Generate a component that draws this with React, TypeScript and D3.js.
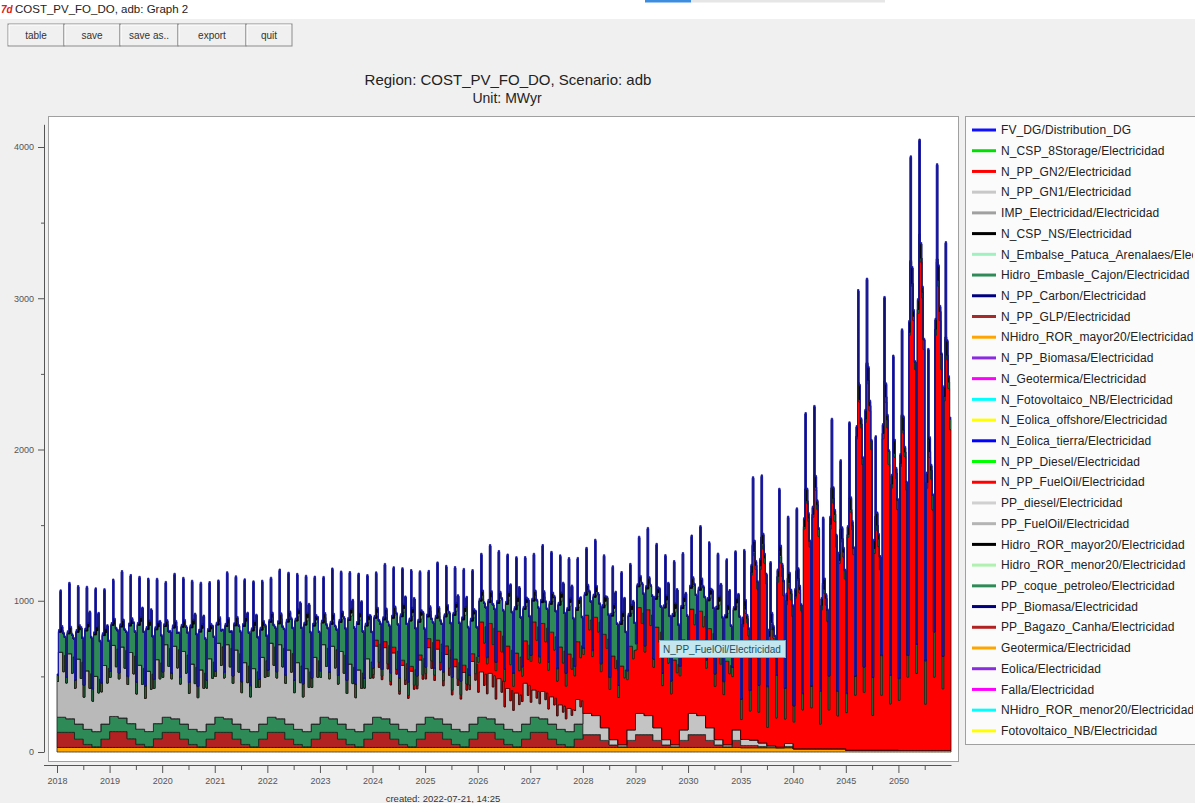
import React, { useEffect, useRef } from "react";
import * as d3 from "d3";

// ---------------- DATA ----------------
const periods = ["2018","2019","2020","2021","2022","2023","2024","2025","2026","2027","2028","2029","2030","2035","2040","2045","2050"];
// dispatch regime per period: "a" = thermal + hydro mix, "b" = fuel-oil dominated with deep valleys
const regimeByPeriod = ["a","a","a","a","a","a","a","a","a","a","a","a","a","b","b","b","b"];
const seasonLabels = ["S1","S2","S3","S4","S5","S6"];
const daypartLabels = ["D1","D2","D3","D4","D5","D6"];

const legendNames = [
  "FV_DG/Distribution_DG","N_CSP_8Storage/Electricidad","N_PP_GN2/Electricidad","N_PP_GN1/Electricidad",
  "IMP_Electricidad/Electricidad","N_CSP_NS/Electricidad","N_Embalse_Patuca_Arenalaes/Electricidad",
  "Hidro_Embasle_Cajon/Electricidad","N_PP_Carbon/Electricidad","N_PP_GLP/Electricidad",
  "NHidro_ROR_mayor20/Electricidad","N_PP_Biomasa/Electricidad","N_Geotermica/Electricidad",
  "N_Fotovoltaico_NB/Electricidad","N_Eolica_offshore/Electricidad","N_Eolica_tierra/Electricidad",
  "N_PP_Diesel/Electricidad","N_PP_FuelOil/Electricidad","PP_diesel/Electricidad","PP_FuelOil/Electricidad",
  "Hidro_ROR_mayor20/Electricidad","Hidro_ROR_menor20/Electricidad","PP_coque_petroleo/Electricidad",
  "PP_Biomasa/Electricidad","PP_Bagazo_Canha/Electricidad","Geotermica/Electricidad","Eolica/Electricidad",
  "Falla/Electricidad","NHidro_ROR_menor20/Electricidad","Fotovoltaico_NB/Electricidad"
];
const legendColors = [
  "#1010ff","#00e000","#ff0000","#c8c8c8","#a0a0a0","#000000","#a0f0c0","#2e8b57","#00007f","#a52a2a",
  "#ffa500","#8a2be2","#ff00ff","#00ffff","#ffff00","#0000ff","#00ff00","#ff0000","#d0d0d0","#b4b4b4",
  "#000000","#b0f0b0","#2e8b57","#00007f","#b22222","#ffa500","#8a2be2","#ff00ff","#00ffff","#ffff00"
];

// levels (MW) per period
const geotermicaLevel = [30,30,30,30,30,30,30,30,30,30,30,30,30,28,22,12,10];
const bagazoLevel     = [100,105,100,100,100,100,100,100,100,100,85,85,85,15,0,0,0];
const coqueLevel      = [100,100,100,100,100,100,100,100,100,100,0,0,0,0,0,0,0];
const ppDieselLevel   = [0,0,0,0,0,0,0,0,0,0,140,140,140,40,0,0,0];
const ppFuelOilLevel  = [430,470,480,490,490,480,470,460,300,180,0,0,0,0,0,0,0];
const nFuelOilLevel   = [0,0,0,0,0,0,40,60,330,450,650,700,690,1350,1800,2550,3400];
const cajonLevel      = [220,220,200,200,230,240,240,240,230,230,220,230,230,150,120,140,160];
const patucaLevel     = [0,0,0,10,20,20,25,25,25,25,25,25,25,10,0,0,0];
const cspNsLevel      = [300,330,320,320,320,330,330,330,340,340,340,360,380,400,450,550,620];
const carbonLevel     = [10,10,10,10,10,10,10,10,10,10,10,10,10,10,10,10,10];

// seasonal shapes (6 seasons per period)
const flatShape        = [1,1,1,1,1,1];
const bagazoSeason     = [1,1,0.55,0.2,0.05,0.55];
const coqueSeason      = [1,0.9,1,1,1,1];
const ppDieselSeason   = [1,0.9,0.6,0.25,0.1,0.5];
const ppFuelOilSeason  = [1,1,1,0.9,0.85,0.9];
const nFuelOilSeasonA  = [1,1,0.95,0.85,0.8,0.85];
const nFuelOilSeasonB  = [0.65,0.95,1,0.6,0.95,0.8];
const cajonSeason      = [0.6,0.6,0.8,1.2,1.25,0.9];
const cspNsSeason      = [0.9,1.1,1,0.95,1,1];

// daypart shapes (6 dayparts per season)
const ppFuelOilDay     = [0.55,1,1,1,0.7,0.95];
const nFuelOilDayA     = [0.6,1,1,1,0.85,0.95];
const nFuelOilDayB     = [0.15,0.85,1,0.95,0.88,0.78];
const cajonDayA        = [0.3,1,1,1.1,1.9,0.9];
const cajonDayB        = [1.5,0.2,0.1,0.2,0.3,0.5];
const patucaDay        = [0,0,0,1,0,0];
const cspNsDayA        = [0,0.03,1,0.08,0,0];
const cspNsDayB        = [0,0.1,1,0.15,0.05,0];

// stack order bottom -> top
const stackSeries = [
  { name: "Geotermica/Electricidad", fill: "#ffa500", stroke: "#3a2a00", level: geotermicaLevel, season: { a: flatShape, b: flatShape }, day: { a: flatShape, b: flatShape } },
  { name: "PP_Bagazo_Canha/Electricidad", fill: "#b22222", stroke: "#2a0a0a", level: bagazoLevel, season: { a: bagazoSeason, b: bagazoSeason }, day: { a: flatShape, b: flatShape } },
  { name: "PP_coque_petroleo/Electricidad", fill: "#2e8b57", stroke: "#0f2a1a", level: coqueLevel, season: { a: coqueSeason, b: coqueSeason }, day: { a: flatShape, b: flatShape } },
  { name: "PP_diesel/Electricidad", fill: "#c4c4c4", stroke: "#303030", level: ppDieselLevel, season: { a: ppDieselSeason, b: ppDieselSeason }, day: { a: flatShape, b: flatShape } },
  { name: "PP_FuelOil/Electricidad", fill: "#b9b9b9", stroke: "#202020", level: ppFuelOilLevel, season: { a: ppFuelOilSeason, b: ppFuelOilSeason }, day: { a: ppFuelOilDay, b: flatShape } },
  { name: "N_PP_FuelOil/Electricidad", fill: "#ff0000", stroke: "#3a0000", level: nFuelOilLevel, season: { a: nFuelOilSeasonA, b: nFuelOilSeasonB }, day: { a: nFuelOilDayA, b: nFuelOilDayB } },
  { name: "Hidro_Embasle_Cajon/Electricidad", fill: "#2e8b57", stroke: "#0f2a1a", level: cajonLevel, season: { a: cajonSeason, b: cajonSeason }, day: { a: cajonDayA, b: cajonDayB } },
  { name: "N_Embalse_Patuca_Arenalaes/Electricidad", fill: "#a0f0a0", stroke: "#304030", level: patucaLevel, season: { a: flatShape, b: flatShape }, day: { a: patucaDay, b: patucaDay } },
  { name: "N_CSP_NS/Electricidad", fill: "#050510", stroke: "#000000", level: cspNsLevel, season: { a: cspNsSeason, b: cspNsSeason }, day: { a: cspNsDayA, b: cspNsDayB } },
  { name: "N_PP_Carbon/Electricidad", fill: "#00007f", stroke: "#1c1cb0", level: carbonLevel, season: { a: flatShape, b: flatShape }, day: { a: flatShape, b: flatShape } },
];

const buttonLabels = ["table", "save", "save as..", "export", "quit"];
const buttonEdges = [8, 64, 120, 178, 246, 292];

// ---------------- GEOMETRY ----------------
const W = 1195, H = 803;
const PLOT_X0 = 57, PLOT_X1 = 951;
const SLICES_PER_PERIOD = seasonLabels.length * daypartLabels.length;
const N = periods.length * SLICES_PER_PERIOD;

const xSlice = d3.scaleLinear().domain([0, N]).range([PLOT_X0, PLOT_X1]);
const xPeriod = d3.scaleLinear().domain([0, periods.length]).range([PLOT_X0, PLOT_X1]);
const y = d3.scaleLinear().domain([0, 4150]).range([752, 752 - 4150 * 0.15125]);

type Row = { [k: string]: number };
const rows: Row[] = [];
periods.forEach((_, p) => {
  const r = regimeByPeriod[p] as "a" | "b";
  seasonLabels.forEach((__, s) => {
    daypartLabels.forEach((___, d) => {
      const row: Row = { i: rows.length };
      stackSeries.forEach((ser) => {
        row[ser.name] = ser.level[p] * ser.season[r][s] * ser.day[r][d];
      });
      rows.push(row);
    });
  });
});
rows.push({ ...rows[rows.length - 1], i: N });

const keys = stackSeries.map((s) => s.name);
const stacked = d3.stack<Row>().keys(keys)(rows);
const area = d3
  .area<d3.SeriesPoint<Row>>()
  .x((d) => xSlice(d.data.i))
  .y0((d) => y(d[0]))
  .y1((d) => y(d[1]))
  .curve(d3.curveStepAfter);

const FONT = "'Liberation Sans', Arial, sans-serif";

export default function App() {
  const xAxisRef = useRef<SVGGElement>(null);
  const xMinorRef = useRef<SVGGElement>(null);
  const yAxisRef = useRef<SVGGElement>(null);
  const yMinorRef = useRef<SVGGElement>(null);

  useEffect(() => {
    const styleAxis = (g: d3.Selection<SVGGElement, unknown, null, undefined>) => {
      g.selectAll("path").attr("stroke", "#555");
      g.selectAll("line").attr("stroke", "#555");
      g.selectAll("text").attr("fill", "#555").style("font-family", FONT).style("font-size", "9px");
    };
    const gx = d3.select(xAxisRef.current!);
    gx.call(
      d3.axisBottom(xPeriod)
        .tickValues(d3.range(periods.length))
        .tickFormat((i) => periods[i as number])
        .tickSize(8)
        .tickPadding(5)
        .tickSizeOuter(0)
    );
    styleAxis(gx);
    const gxm = d3.select(xMinorRef.current!);
    gxm.call(
      d3.axisBottom(xPeriod)
        .tickValues(d3.range(periods.length).map((i) => i + 0.5))
        .tickFormat(() => "")
        .tickSize(5)
        .tickSizeOuter(0)
    );
    gxm.select(".domain").remove();
    styleAxis(gxm);

    const gy = d3.select(yAxisRef.current!);
    gy.call(
      d3.axisLeft(y)
        .tickValues([0, 1000, 2000, 3000, 4000])
        .tickFormat(d3.format("d"))
        .tickSize(6)
        .tickPadding(4)
        .tickSizeOuter(0)
    );
    styleAxis(gy);
    const gym = d3.select(yMinorRef.current!);
    gym.call(d3.axisLeft(y).tickValues([500, 1500, 2500, 3500]).tickFormat(() => "").tickSize(3).tickSizeOuter(0));
    gym.select(".domain").remove();
    styleAxis(gym);
  }, []);

  const legendY0 = 130, legendStep = 20.72;

  return (
    <svg width={W} height={H} style={{ position: "absolute", left: 0, top: 0 }} fontFamily={FONT}>
      <defs>
        <clipPath id="plotClip">
          <rect x={49} y={117} width={908} height={644} />
        </clipPath>
        <clipPath id="legendClip">
          <rect x={966} y={117} width={227} height={627} />
        </clipPath>
      </defs>
      {/* window background */}
      <rect x={0} y={0} width={W} height={H} fill="#f0f0f0" />
      <rect x={0} y={0} width={W} height={19} fill="#ffffff" />
      <rect x={645} y={0} width={46} height={2.5} fill="#3c8ce0" />
      <rect x={691} y={0} width={194} height={2.5} fill="#e6e6e6" />
      <text x={1} y={13} fontSize={10} fill="#e02020" fontWeight="bold" fontStyle="italic">7d</text>
      <text x={15} y={13} fontSize={11.5} fill="#222">COST_PV_FO_DO, adb: Graph 2</text>

      {/* buttons */}
      {buttonLabels.map((b, i) => {
        const x0 = buttonEdges[i], x1 = buttonEdges[i + 1];
        return (
          <g key={b}>
            <rect x={x0} y={24} width={x1 - x0} height={22} fill="#f0f0f0" stroke="#8c8c8c" strokeWidth={1} />
            <line x1={x0 + 1} y1={25} x2={x1 - 1} y2={25} stroke="#ffffff" />
            <line x1={x0 + 1} y1={25} x2={x0 + 1} y2={45} stroke="#ffffff" />
            <text x={(x0 + x1) / 2} y={38.5} fontSize={10} fill="#333" textAnchor="middle">{b}</text>
          </g>
        );
      })}

      {/* title */}
      <text x={508} y={85} fontSize={15} fill="#222" textAnchor="middle">Region: COST_PV_FO_DO, Scenario: adb</text>
      <text x={507} y={103} fontSize={14} fill="#222" textAnchor="middle">Unit: MWyr</text>

      {/* plot panel */}
      <rect x={48.5} y={116.5} width={910} height={645} fill="#ffffff" stroke="#a0a0a0" strokeWidth={1} />

      <g clipPath="url(#plotClip)">
        {stacked.map((layer, li) => {
          const ser = stackSeries[li];
          if (d3.max(ser.level) === 0) return null;
          return (
            <path
              key={ser.name}
              d={area(layer) || ""}
              fill={ser.fill}
              stroke={ser.stroke}
              strokeWidth={0.8}
              strokeLinejoin="miter"
            />
          );
        })}
      </g>

      {/* axes */}
      <line x1={44} x2={57} y1={765.5} y2={765.5} stroke="#555" />
      <g ref={yAxisRef} transform="translate(44,0)" />
      <g ref={yMinorRef} transform="translate(44,0)" />
      <g ref={xAxisRef} transform="translate(0,765)" />
      <g ref={xMinorRef} transform="translate(0,765)" />

      <text x={443} y={802} fontSize={9.5} fill="#333" textAnchor="middle">created: 2022-07-21, 14:25</text>

      {/* tooltip */}
      <rect x={659.5} y={640.5} width={126} height={17} fill="#c4e6ee" stroke="#7aaebc" />
      <text x={663} y={652.5} fontSize={10} fill="#1f4f5c">N_PP_FuelOil/Electricidad</text>

      {/* legend */}
      <rect x={965.5} y={116.5} width={240} height={628} fill="#fbfbfb" stroke="#a0a0a0" />
      <g clipPath="url(#legendClip)">
        {legendNames.map((n, i) => {
          const ly = legendY0 + i * legendStep;
          return (
            <g key={n + i}>
              <line x1={972} x2={996} y1={ly} y2={ly} stroke={legendColors[i]} strokeWidth={3} />
              <text x={1001} y={ly} dy="0.35em" fontSize={12} letterSpacing={0.1} fill="#222">{n}</text>
            </g>
          );
        })}
      </g>
    </svg>
  );
}
